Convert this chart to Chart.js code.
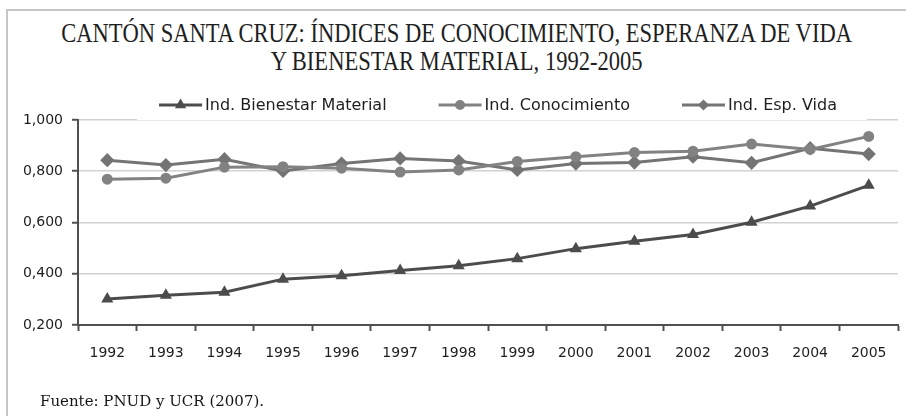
<!DOCTYPE html>
<html>
<head>
<meta charset="utf-8">
<script src="https://cdn.jsdelivr.net/npm/chart.js@4.4.1/dist/chart.umd.min.js"></script>
<style>
  html, body { margin: 0; padding: 0; background: #fff; overflow: hidden; }
  #wrap { position: relative; width: 906px; height: 416px; overflow: hidden; }
  #frame { position: absolute; left: 6px; top: 9px; width: 1000px; height: 500px;
           border-left: 2px solid #c6c6c6; border-top: 2px solid #c6c6c6; }
  .title { position: absolute; left: -293px; width: 1500px; text-align: center;
           font-family: "Liberation Serif", serif; font-size: 27px; line-height: 27px;
           color: #1e1e1e; white-space: nowrap; }
  .title span { display: inline-block; transform: scaleX(0.835); transform-origin: center; }
  #source { position: absolute; left: 40px; top: 394px; font-family: "DejaVu Serif", serif;
            font-size: 15px; line-height: 15px; color: #151515; white-space: nowrap; }
  canvas { position: absolute; left: 0; top: 0; }
</style>
</head>
<body>
<div id="wrap">
  <div id="frame"></div>
  <div class="title" style="top:20px"><span>CANTÓN SANTA CRUZ: ÍNDICES DE CONOCIMIENTO, ESPERANZA DE VIDA</span></div>
  <div class="title" style="top:48px"><span>Y BIENESTAR MATERIAL, 1992-2005</span></div>
  <canvas id="chart" width="906" height="416"></canvas>
  <div id="source">Fuente: PNUD y UCR (2007).</div>
</div>
<script>
const years = ["1992","1993","1994","1995","1996","1997","1998","1999","2000","2001","2002","2003","2004","2005"];
const bienestar    = [0.301, 0.316, 0.328, 0.379, 0.392, 0.413, 0.431, 0.459, 0.498, 0.527, 0.553, 0.601, 0.664, 0.745];
const conocimiento = [0.769, 0.773, 0.816, 0.818, 0.812, 0.797, 0.805, 0.838, 0.857, 0.873, 0.878, 0.906, 0.885, 0.936];
const espVida      = [0.843, 0.824, 0.847, 0.801, 0.830, 0.850, 0.840, 0.805, 0.830, 0.834, 0.857, 0.833, 0.890, 0.867];
const yMin = 0.2, yMax = 1.0, yStep = 0.2;

const axisColor = "#505050";
const gridColor = "#d2d2d2";
const textColor = "#1e1e1e";

// legend drawn by hand so the item spacing matches (wide gaps, small vertical box)
const lineLegend = {
  id: "lineLegend",
  beforeDatasetsDraw(chart) {
    const ctx = chart.ctx;
    const sets = chart.data.datasets;
    const cy = 105, lineLen = 43, gapText = 3, gapItem = 52;
    ctx.save();
    ctx.font = "16px 'DejaVu Sans'";
    const widths = sets.map(d => ctx.measureText(d.label).width);
    const total = widths.reduce((a, w) => a + lineLen + gapText + w, 0) + gapItem * (sets.length - 1);
    let x = 498 - total / 2;
    ctx.fillStyle = "#fff";
    ctx.fillRect(x - 22, cy - 13, total + 52, 28);
    sets.forEach((d, i) => {
      ctx.strokeStyle = d.borderColor;
      ctx.lineWidth = 3;
      ctx.beginPath();
      ctx.moveTo(x, cy);
      ctx.lineTo(x + lineLen, cy);
      ctx.stroke();
      ctx.fillStyle = d.borderColor;
      Chart.helpers.drawPoint(ctx, { pointStyle: d.pointStyle, radius: 3.5, borderWidth: 1, rotation: 0 }, x + lineLen / 2, cy);
      x += lineLen + gapText;
      ctx.fillStyle = textColor;
      ctx.textBaseline = "middle";
      ctx.fillText(d.label, x, cy + 1);
      x += widths[i] + gapItem;
    });
    ctx.restore();
  }
};

new Chart(document.getElementById("chart"), {
  type: "line",
  data: {
    labels: years,
    datasets: [
      { label: "Ind. Bienestar Material", data: bienestar, borderColor: "#4c4c4c", backgroundColor: "#4c4c4c",
        borderWidth: 3, pointStyle: "triangle", pointRadius: 4, tension: 0 },
      { label: "Ind. Conocimiento", data: conocimiento, borderColor: "#828282", backgroundColor: "#828282",
        borderWidth: 3, pointStyle: "circle", pointRadius: 4, tension: 0 },
      { label: "Ind. Esp. Vida", data: espVida, borderColor: "#747474", backgroundColor: "#747474",
        borderWidth: 3, pointStyle: "rectRot", pointRadius: 5, tension: 0 }
    ]
  },
  options: {
    responsive: false,
    animation: false,
    devicePixelRatio: 1,
    layout: { padding: { top: 120, left: 0, right: 0, bottom: 0 } },
    plugins: { legend: { display: false }, tooltip: { enabled: false } },
    scales: {
      x: {
        offset: true,
        afterFit: s => { s.height = 91; },
        grid: { offset: true, drawOnChartArea: false, tickLength: 6, tickColor: axisColor, tickWidth: 2 },
        border: { color: axisColor, width: 2 },
        ticks: { color: textColor, font: { family: "DejaVu Sans", size: 14 }, padding: 14, maxRotation: 0, autoSkip: false }
      },
      y: {
        min: yMin, max: yMax,
        afterFit: s => { s.width = 78; },
        grid: { color: gridColor, lineWidth: 1.5, tickLength: 6, tickColor: axisColor, tickWidth: 2 },
        border: { color: axisColor, width: 2 },
        ticks: { stepSize: yStep, color: textColor, font: { family: "DejaVu Sans", size: 14 }, padding: 9,
                 callback: v => v.toFixed(3).replace(".", ",") }
      }
    }
  },
  plugins: [lineLegend]
});
</script>
</body>
</html>
